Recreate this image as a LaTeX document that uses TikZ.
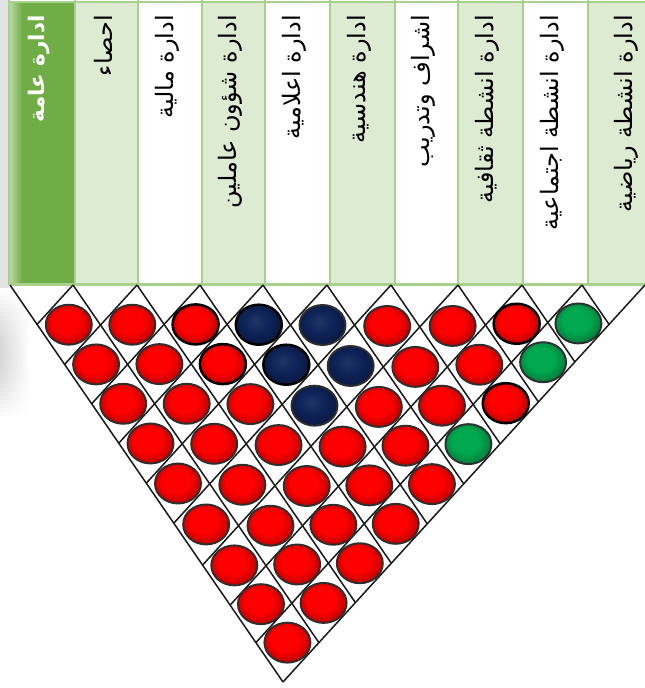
\documentclass[tikz,border=0pt]{standalone}
\usepackage{fontspec}
\newfontfamily\arabicfont[Script=Arabic]{DejaVu Sans}
\TeXXeTstate=1
\usetikzlibrary{calc,shapes.geometric,fadings}
\definecolor{hgreen}{HTML}{70AD47}
\definecolor{hlight}{HTML}{DCEBD2}
\definecolor{hline}{HTML}{A9D18E}
\definecolor{cred}{HTML}{FF0000}
\definecolor{cnavy}{HTML}{0D2258}
\definecolor{cgreen}{HTML}{00A84F}
\pgfdeclareradialshading{redball}{\pgfpoint{-4bp}{5bp}}{color(0bp)=(cred); color(15bp)=(cred); color(29bp)=(cred!70!black); color(50bp)=(cred!70!black)}
\pgfdeclareradialshading{navyball}{\pgfpoint{-4bp}{5bp}}{color(0bp)=(cnavy!92!white); color(15bp)=(cnavy); color(29bp)=(cnavy!70!black); color(50bp)=(cnavy!70!black)}
\pgfdeclareradialshading{greenball}{\pgfpoint{-4bp}{5bp}}{color(0bp)=(cgreen); color(15bp)=(cgreen); color(29bp)=(cgreen!70!black); color(50bp)=(cgreen!70!black)}
\tikzset{
  circ/.style={ellipse, minimum width=46pt, minimum height=40pt, inner sep=0pt, draw=black!82, line width=1.9pt, shade},
  strongrim/.style={draw=black, line width=2.5pt},
  gridline/.style={line width=1.5pt, black!90},
  hdrline/.style={draw=hline, line width=2pt},
  lbl/.style={font=\arabicfont\fontsize{24}{28}\selectfont, rotate=90, anchor=east, inner sep=0pt},
}
\expandafter\def\csname sh3-4\endcsname{navyball}
\expandafter\def\csname sh4-5\endcsname{navyball}
\expandafter\def\csname sh3-5\endcsname{navyball}
\expandafter\def\csname sh4-6\endcsname{navyball}
\expandafter\def\csname sh3-6\endcsname{navyball}
\expandafter\def\csname sh8-9\endcsname{greenball}
\expandafter\def\csname sh7-9\endcsname{greenball}
\expandafter\def\csname sh5-9\endcsname{greenball}
\expandafter\def\csname rim2-3\endcsname{}
\expandafter\def\csname rim2-4\endcsname{}
\expandafter\def\csname rim3-4\endcsname{}
\expandafter\def\csname rim3-5\endcsname{}
\expandafter\def\csname rim7-8\endcsname{}
\expandafter\def\csname rim6-9\endcsname{}
\begin{document}
\begin{tikzpicture}[x=1pt,y=-1pt]
\useasboundingbox (0,0) rectangle (645,688);
\clip (0,0) rectangle (645,688);
% left shadow
\fill[gray!22] (0,0) rectangle (9,288);
\foreach \s in {0,...,32} {
  \pgfmathsetmacro\op{0.32*sin(180*\s/32)}
  \fill[gray, opacity=\op, path fading=east] (0,{288+4*\s}) rectangle (30,{292+4*\s});
}
% header cells
\def\Hx{{9,75,138,202,265,330,395,458,523,588,670}}
\foreach \k in {0,...,9} {
  \pgfmathsetmacro\xl{\Hx[\k]}
  \pgfmathtruncatemacro\kn{\k+1}
  \pgfmathsetmacro\xr{\Hx[\kn]}
  \ifnum\k=0 \def\hc{hgreen}\else\ifodd\k \def\hc{hlight}\else\def\hc{white}\fi\fi
  \fill[\hc] (\xl,1) rectangle (\xr,285);
  \coordinate (hc-\k) at ({(\xl+\xr)/2-3},15);
}
\shade[left color=hgreen!45!white, right color=hgreen] (9,1) rectangle (22,285);
\foreach \k in {0,...,10} {
  \pgfmathsetmacro\xl{\Hx[\k]}
  \draw[hdrline] (\xl,0) -- (\xl,285);
}
\draw[hdrline] (9,1.5) -- (670,1.5);
\draw[hline, line width=3pt] (9,284) -- (670,284);
% labels
\node[lbl, text=white, font=\arabicfont\bfseries\fontsize{21.5}{26}\selectfont] (l-0) at (hc-0) {\beginR ادارة عامة\endR};
\node[lbl] (l-1) at (hc-1) {\beginR احصاء\endR};
\node[lbl] (l-2) at (hc-2) {\beginR ادارة مالية\endR};
\node[lbl] (l-3) at (hc-3) {\beginR ادارة شؤون عاملين\endR};
\node[lbl] (l-4) at (hc-4) {\beginR ادارة اعلامية\endR};
\node[lbl] (l-5) at (hc-5) {\beginR ادارة هندسية\endR};
\node[lbl] (l-6) at (hc-6) {\beginR اشراف وتدريب\endR};
\node[lbl] (l-7) at (hc-7) {\beginR ادارة انشطة ثقافية\endR};
\node[lbl] (l-8) at (hc-8) {\beginR ادارة انشطة اجتماعية\endR};
\node[lbl] (l-9) at (hc-9) {\beginR ادارة انشطة رياضية\endR};
% lattice geometry
\def\Bx{{10,73,137,200,263,327,391,458,522,582,645}}
\def\sa{0.5701}\def\sb{0.4299}\def\yf{0.6252}
\foreach \k in {0,...,10} {
  \pgfmathsetmacro\bk{\Bx[\k]}
  \coordinate (t-\k) at (\bk,285);
}
\foreach \a in {0,...,10} {
  \foreach \b in {\a,...,10} {
    \pgfmathsetmacro\ba{\Bx[\a]}
    \pgfmathsetmacro\bb{\Bx[\b]}
    \pgfmathsetmacro\px{\sa*\ba+\sb*\bb}
    \pgfmathsetmacro\py{285+\yf*(\bb-\ba)}
    \coordinate (p-\a-\b) at (\px,\py);
  }
}
\foreach \a in {0,...,9} \draw[gridline] (t-\a) -- (p-\a-10);
\foreach \b in {1,...,10} \draw[gridline] (t-\b) -- (p-0-\b);
% circles
\foreach \i in {0,...,8} {
  \pgfmathtruncatemacro\ia{\i+1}
  \foreach \j in {\ia,...,9} {
    \pgfmathtruncatemacro\jb{\j+1}
    \ifcsname sh\i-\j\endcsname \edef\sh{\csname sh\i-\j\endcsname}\else\def\sh{redball}\fi
    \ifcsname rim\i-\j\endcsname
      \node[circ, strongrim, shading=\sh] (c-\i-\j) at ($(p-\ia-\j)!0.5!(p-\i-\jb)$) {};
    \else
      \node[circ, shading=\sh] (c-\i-\j) at ($(p-\ia-\j)!0.5!(p-\i-\jb)$) {};
    \fi
  }
}
\end{tikzpicture}
\end{document}
